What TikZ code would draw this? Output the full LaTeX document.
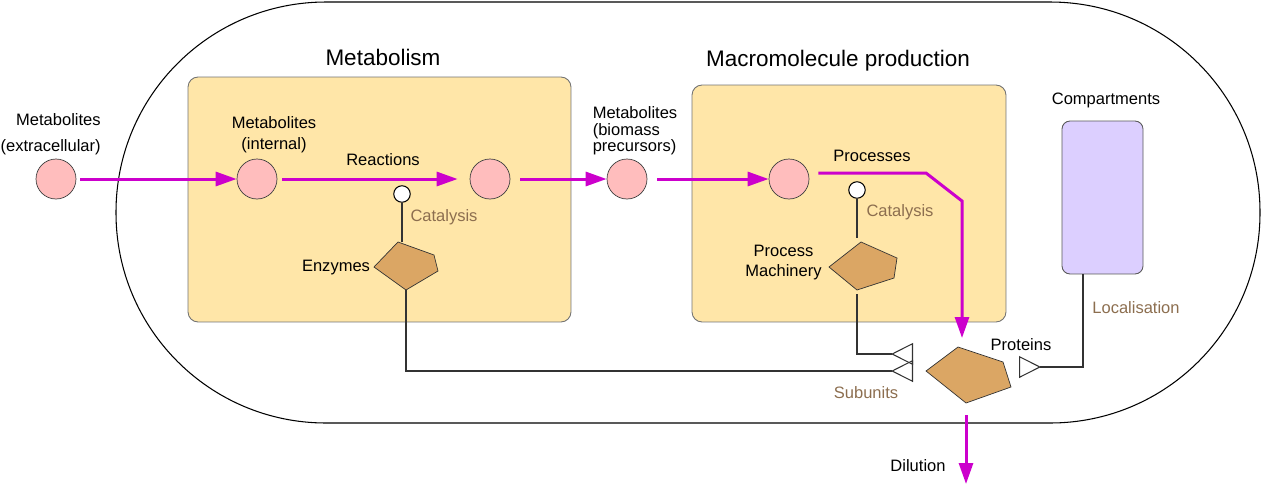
\documentclass[tikz,border=0pt]{standalone}
\usepackage{fontspec}
\setmainfont{Liberation Sans}
\usepackage{xcolor}
\usetikzlibrary{arrows.meta, calc}
\definecolor{FluxMagenta}{HTML}{CC00CC}
\definecolor{BoxYellow}{HTML}{FFE6A8}
\definecolor{MetabPink}{HTML}{FFBDBD}
\definecolor{EnzTan}{HTML}{DBA664}
\definecolor{CompLilac}{HTML}{DCCFFF}
\definecolor{NoteBrown}{HTML}{8C6E4F}
\definecolor{LinkGrey}{HTML}{333333}
\tikzset{
    cell/.style={
        draw=black,
        line width=0.6pt,
        rounded corners=4.2cm
    },
    procbox/.style={
        draw=black!55,
        fill=BoxYellow,
        line width=0.5pt,
        rounded corners=0.2cm,
        inner sep=0pt
    },
    compbox/.style={
        draw=black!65,
        fill=CompLilac,
        line width=0.5pt,
        rounded corners=0.16cm,
        minimum width=1.62cm,
        minimum height=3.06cm,
        inner sep=0pt
    },
    metab/.style={
        circle,
        draw=black!75,
        fill=MetabPink,
        line width=0.4pt,
        minimum size=0.8cm,
        inner sep=0pt
    },
    catdot/.style={
        circle,
        draw=black,
        fill=white,
        line width=0.6pt,
        minimum size=0.33cm,
        inner sep=0pt
    },
    enzshape/.style={
        draw=black!80,
        fill=EnzTan,
        line width=0.4pt
    },
    flux/.style={
        -{Triangle[length=0.42cm, width=0.28cm]},
        line width=0.06cm,
        FluxMagenta
    },
    link/.style={
        draw=LinkGrey,
        line width=0.6pt
    },
    openlink/.style={
        link,
        -{Triangle[open, reversed, length=0.44cm, width=0.44cm, line width=0.6pt]}
    },
    txt/.style={
        font=\fontsize{9.4}{12}\selectfont,
        inner sep=0pt,
        align=center
    },
    note/.style={
        txt,
        text=NoteBrown
    },
    heading/.style={
        font=\fontsize{12.8}{15}\selectfont,
        inner sep=0pt
    }
}

\begin{document}
\begin{tikzpicture}[x=0.02cm, y=-0.02cm]
        \useasboundingbox (0,0) rectangle (1261,484);

        % Cell
        \draw[cell] (116,2) rectangle (1260,423);

        % Metabolism side
        \node[procbox, minimum width=7.66cm, minimum height=4.9cm] (metbox) at (379.5,199.5) {};
        \node[heading] (metttl) at (383,57) {Metabolism};

        \node[metab] (ext) at (56,179) {};
        \node[txt, align=right, anchor=east, font=\fontsize{9.4}{14.5}\selectfont] (extlbl) at (101,134) {Metabolites\\(extracellular)};
        \node[metab] (int) at (257,179) {};
        \node[txt] (intlbl) at (274,135) {Metabolites\\(internal)};
        \node[metab] (prod) at (490,179) {};
        \node[txt] (reac) at (383,160) {Reactions};

        \node[catdot] (cat1) at (402,194) {};
        \node[note] (cat1lbl) at (444,217) {Catalysis};
        \coordinate (enz-top) at (398,242);
        \coordinate (enz-bot) at (406,290);
        \draw[enzshape] (enz-top) -- (434,255) -- (438,271) -- (enz-bot) -- (374,267) -- cycle;
        \node[txt] (enzlbl) at (336,268) {Enzymes};

        % Precursors
        \node[metab] (bio) at (627,179) {};
        \node[txt, align=left, font=\fontsize{9.4}{9.3}\selectfont] (biolbl) at (635,131) {Metabolites\\ (biomass\\ precursors)};

        % Macromolecule side
        \node[procbox, minimum width=6.28cm, minimum height=4.74cm] (macbox) at (849,203.5) {};
        \node[heading] (macttl) at (838,61) {Macromolecule production};

        \node[metab] (proc) at (789,179) {};
        \node[txt] (proclbl) at (872,156) {Processes};
        \node[catdot] (cat2) at (857,190) {};
        \node[note] (cat2lbl) at (900,212) {Catalysis};
        \coordinate (mach-top) at (861,242);
        \coordinate (mach-bot) at (857,290);
        \draw[enzshape] (mach-top) -- (897,258) -- (894,278) -- (mach-bot) -- (829,267) -- cycle;
        \node[txt, font=\fontsize{9.4}{11.4}\selectfont] (machlbl) at (783.5,263) {Process\\Machinery};

        % Proteins
        \coordinate (prot-top) at (958,347);
        \coordinate (prot-bot) at (966,403);
        \draw[enzshape] (prot-top) -- (1003,362) -- (1011,387) -- (prot-bot) -- (926,371) -- cycle;
        \node[txt] (protlbl) at (1021,345) {Proteins};
        \coordinate (prot-in) at (962,338);
        \coordinate (sub-up) at (913,354);
        \coordinate (sub-low) at (913,371);
        \node[note] (sublbl) at (866,393) {Subunits};

        % Compartments
        \node[compbox] (comp) at (1102.5,197.5) {};
        \node[txt] (complbl) at (1106,100) {Compartments};
        \node[note] (loclbl) at (1136,308) {Localisation};
        \coordinate (loc-end) at (1019,367);

        % Dilution
        \coordinate (dil) at (966,484);
        \node[txt] (dillbl) at (918,466) {Dilution};

        % Fluxes
        \draw[flux, shorten <=0.08cm] (ext) -- (int);
        \draw[flux, shorten <=0.1cm, shorten >=0.24cm] (int) -- (prod);
        \draw[flux, shorten <=0.2cm] (prod) -- (bio);
        \draw[flux, shorten <=0.2cm] (bio) -- (proc);
        \draw[flux] ([shift={(9,-6)}]proc.east) -- (926,173) -- (962,201) -- (prot-in);
        \draw[flux, shorten <=0.24cm] (prot-bot) -- (dil);

        % Catalysis and assembly links
        \draw[link] (cat1) -- (cat1 |- enz-top);
        \draw[link, shorten >=0.08cm] (cat2) -- (cat2 |- mach-top);
        \draw[openlink] (enz-bot) |- (sub-low);
        \draw[openlink, shorten <=0.08cm] (mach-bot) |- (sub-up);
        \draw[openlink] ([xshift=-0.39cm]comp.south) |- (loc-end);
    \end{tikzpicture}
\end{document}
